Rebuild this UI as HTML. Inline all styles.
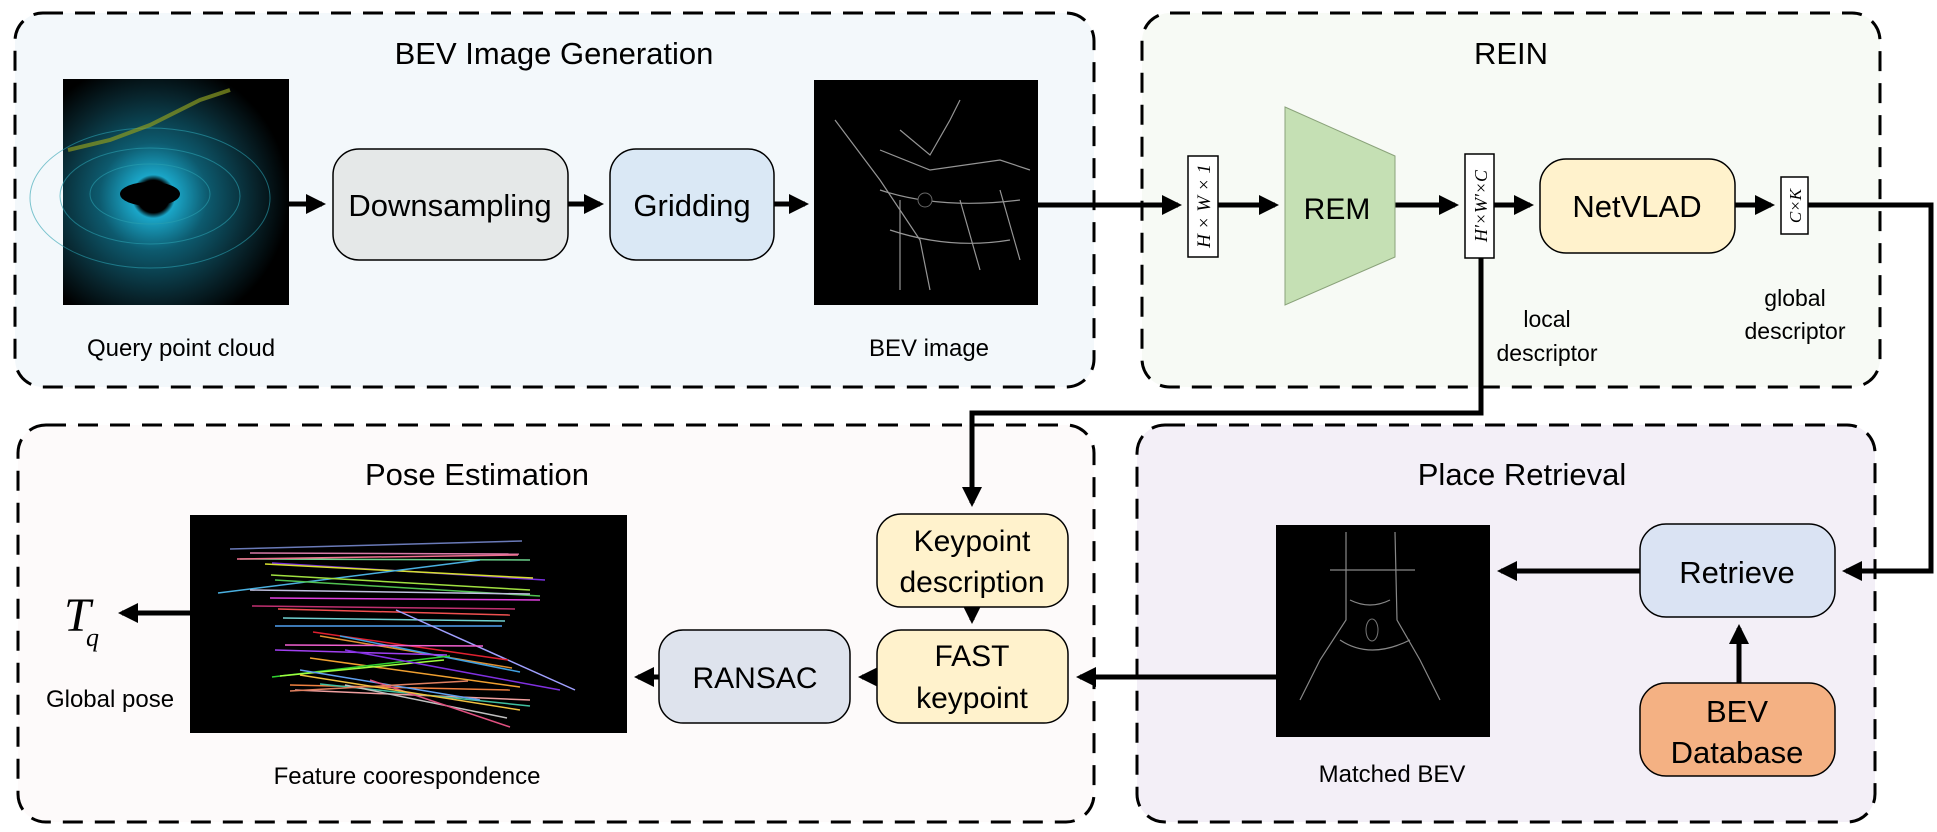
<!DOCTYPE html>
<html><head><meta charset="utf-8"><style>
html,body{margin:0;padding:0;background:#fff;}
svg{display:block;}
text{font-family:"Liberation Sans",sans-serif;fill:#000;}
</style></head><body>
<svg width="1937" height="832" viewBox="0 0 1937 832" xmlns="http://www.w3.org/2000/svg">
<defs>
<marker id="ah" markerWidth="4" markerHeight="4" refX="3.2" refY="2" orient="auto" markerUnits="strokeWidth">
<path d="M0,0 L4,2 L0,4 Z" fill="#000"/></marker>
<radialGradient id="pc" cx="0.4" cy="0.52" r="0.6">
<stop offset="0" stop-color="#000"/><stop offset="0.12" stop-color="#000"/>
<stop offset="0.16" stop-color="#1aa6c8"/><stop offset="0.4" stop-color="#0d5a6e"/>
<stop offset="0.75" stop-color="#08242c"/><stop offset="1" stop-color="#000"/></radialGradient>
</defs>

<rect x="15" y="13" width="1079" height="374" rx="28" fill="#f3f8fb" stroke="#000" stroke-width="3" stroke-dasharray="20 12"/>
<rect x="1142" y="13" width="738" height="374" rx="28" fill="#f7faf5" stroke="#000" stroke-width="3" stroke-dasharray="20 12"/>
<rect x="18" y="425" width="1076" height="397" rx="28" fill="#fdfafa" stroke="#000" stroke-width="3" stroke-dasharray="20 12"/>
<rect x="1137" y="425" width="738" height="397" rx="28" fill="#f3eff7" stroke="#000" stroke-width="3" stroke-dasharray="20 12"/>

<text x="554" y="64" font-size="31" text-anchor="middle">BEV Image Generation</text>
<text x="1511" y="64" font-size="31" text-anchor="middle">REIN</text>
<text x="477" y="485" font-size="31" text-anchor="middle">Pose Estimation</text>
<text x="1522" y="485" font-size="31" text-anchor="middle">Place Retrieval</text>

<rect x="63" y="79" width="226" height="226" fill="url(#pc)"/>
<ellipse cx="150" cy="194" rx="30" ry="12" fill="#000"/>
<g stroke="#2aa0b0" stroke-width="1" fill="none" opacity="0.6">
<ellipse cx="150" cy="194" rx="60" ry="30"/><ellipse cx="150" cy="196" rx="90" ry="48"/><ellipse cx="150" cy="198" rx="120" ry="70"/>
</g>
<path d="M68,150 L110,140 L150,125 L200,100 L230,90" stroke="#8a9a20" stroke-width="4" fill="none" opacity="0.7"/>

<rect x="814" y="80" width="224" height="225" fill="#000"/>
<g stroke="#bbb" stroke-width="1.2" fill="none" opacity="0.8">
<path d="M835,120 L880,180 L920,240 L930,290"/><path d="M880,150 L930,170 L1000,160 L1030,170"/>
<path d="M900,130 L930,155 L950,120 L960,100"/><path d="M900,200 L900,290 M960,200 L980,270 M1000,190 L1020,260"/>
<path d="M880,190 Q940,210 1020,200 M890,230 Q950,250 1010,240"/>
</g>
<circle cx="925" cy="200" r="7" fill="#000" stroke="#666"/>

<rect x="333" y="149" width="235" height="111" rx="26" fill="#e5e8e8" stroke="#000" stroke-width="1.5"/>
<text x="450" y="216" font-size="31" text-anchor="middle">Downsampling</text>
<rect x="610" y="149" width="164" height="111" rx="26" fill="#dae8f5" stroke="#000" stroke-width="1.5"/>
<text x="692" y="216" font-size="31" text-anchor="middle">Gridding</text>

<g stroke="#000" stroke-width="5" fill="none" marker-end="url(#ah)">
<line x1="289" y1="204" x2="322" y2="204"/>
<line x1="568" y1="204" x2="600" y2="204"/>
<line x1="774" y1="204" x2="805" y2="204"/>
<line x1="1038" y1="205" x2="1178" y2="205"/>
<line x1="1218" y1="205" x2="1275" y2="205"/>
<line x1="1395" y1="205" x2="1455" y2="205"/>
<line x1="1494" y1="205" x2="1530" y2="205"/>
<line x1="1735" y1="205" x2="1771" y2="205"/>
<polyline points="1808,205 1931,205 1931,571 1846,571"/>
<polyline points="1481,258 1481,413 972,413 972,503"/>
<line x1="1640" y1="571" x2="1501" y2="571"/>
<line x1="1739" y1="683" x2="1739" y2="628"/>
<polyline points="1276,677 1080,677"/>
<line x1="877" y1="677" x2="862" y2="677"/>
<line x1="659" y1="677" x2="638" y2="677"/>
<line x1="191" y1="613" x2="122" y2="613"/>
<line x1="972" y1="607" x2="972" y2="620"/>
</g>

<rect x="1188" y="156" width="30" height="101" fill="#fff" stroke="#000" stroke-width="1.5"/>
<text transform="translate(1210,206) rotate(-90)" font-size="19" text-anchor="middle" style="font-family:'Liberation Serif',serif;font-style:italic">H × W × 1</text>
<polygon points="1285,107 1395,156 1395,257 1285,305" fill="#c5e0b4" stroke="#8aa27a" stroke-width="1"/>
<text x="1337" y="219" font-size="30" text-anchor="middle">REM</text>
<rect x="1465" y="154" width="29" height="104" fill="#fff" stroke="#000" stroke-width="1.5"/>
<text transform="translate(1487,206) rotate(-90)" font-size="18" text-anchor="middle" style="font-family:'Liberation Serif',serif;font-style:italic">H'×W'×C</text>
<rect x="1540" y="159" width="195" height="94" rx="26" fill="#fff2cc" stroke="#000" stroke-width="1.5"/>
<text x="1637" y="217" font-size="31" text-anchor="middle">NetVLAD</text>
<rect x="1781" y="177" width="27" height="57" fill="#fff" stroke="#000" stroke-width="1.5"/>
<text transform="translate(1801,206) rotate(-90)" font-size="17" text-anchor="middle" style="font-family:'Liberation Serif',serif;font-style:italic">C×K</text>
<text x="1547" y="327" font-size="23" text-anchor="middle">local</text>
<text x="1547" y="361" font-size="23" text-anchor="middle">descriptor</text>
<text x="1795" y="306" font-size="23" text-anchor="middle">global</text>
<text x="1795" y="339" font-size="23" text-anchor="middle">descriptor</text>

<text x="181" y="356" font-size="24" text-anchor="middle">Query point cloud</text>
<text x="929" y="356" font-size="24" text-anchor="middle">BEV image</text>

<rect x="190" y="515" width="437" height="218" fill="#000"/>
<g stroke-width="1.5" fill="none">
<line x1="230" y1="549" x2="522" y2="541" stroke="#6a7ab8"/>
<line x1="250" y1="553" x2="519" y2="554" stroke="#d87aa8"/>
<line x1="240" y1="559" x2="530" y2="560" stroke="#6ad08a"/>
<line x1="237" y1="559" x2="518" y2="555" stroke="#f07090"/>
<line x1="272" y1="563" x2="545" y2="580" stroke="#7a30e0"/>
<line x1="265" y1="564" x2="533" y2="578" stroke="#d8e030"/>
<line x1="218" y1="593" x2="480" y2="560" stroke="#4ab0e0"/>
<line x1="271" y1="575" x2="530" y2="590" stroke="#a0e040"/>
<line x1="275" y1="580" x2="540" y2="596" stroke="#50c050"/>
<line x1="250" y1="590" x2="530" y2="594" stroke="#c0c0e0"/>
<line x1="270" y1="598" x2="540" y2="600" stroke="#e040e0"/>
<line x1="252" y1="606" x2="515" y2="609" stroke="#c03070"/>
<line x1="278" y1="609" x2="510" y2="615" stroke="#f05050"/>
<line x1="283" y1="618" x2="505" y2="621" stroke="#70d0d0"/>
<line x1="275" y1="626" x2="502" y2="626" stroke="#50a0f0"/>
<line x1="396" y1="610" x2="575" y2="690" stroke="#a0a0ff"/>
<line x1="313" y1="632" x2="508" y2="660" stroke="#e02030"/>
<line x1="320" y1="636" x2="512" y2="668" stroke="#e09030"/>
<line x1="340" y1="636" x2="520" y2="672" stroke="#40a0e0"/>
<line x1="285" y1="645" x2="483" y2="646" stroke="#f060d0"/>
<line x1="275" y1="650" x2="447" y2="655" stroke="#a040f0"/>
<line x1="310" y1="658" x2="520" y2="687" stroke="#f0a030"/>
<line x1="272" y1="677" x2="450" y2="656" stroke="#30d030"/>
<line x1="280" y1="676" x2="444" y2="660" stroke="#a0ff40"/>
<line x1="290" y1="685" x2="510" y2="690" stroke="#f08040"/>
<line x1="295" y1="690" x2="530" y2="700" stroke="#f0a0a0"/>
<line x1="320" y1="684" x2="530" y2="706" stroke="#40c0a0"/>
<line x1="300" y1="670" x2="480" y2="700" stroke="#60a0f0"/>
<line x1="345" y1="685" x2="507" y2="718" stroke="#c0c0c0"/>
<line x1="370" y1="680" x2="510" y2="727" stroke="#e05080"/>
<line x1="290" y1="691" x2="468" y2="681" stroke="#e08060"/>
<line x1="300" y1="675" x2="520" y2="710" stroke="#f0c040"/>
<line x1="345" y1="650" x2="560" y2="690" stroke="#8030e0"/>
</g>
<text x="64" y="631" font-size="48" style="font-family:'Liberation Serif',serif;font-style:italic">T</text>
<text x="86" y="646" font-size="26" style="font-family:'Liberation Serif',serif;font-style:italic">q</text>
<text x="110" y="707" font-size="24" text-anchor="middle">Global pose</text>
<text x="407" y="784" font-size="24" text-anchor="middle">Feature coorespondence</text>

<rect x="877" y="514" width="191" height="93" rx="24" fill="#fff2cc" stroke="#000" stroke-width="1.5"/>
<text x="972" y="551" font-size="30" text-anchor="middle">Keypoint</text>
<text x="972" y="592" font-size="30" text-anchor="middle">description</text>
<rect x="877" y="630" width="191" height="93" rx="24" fill="#fff2cc" stroke="#000" stroke-width="1.5"/>
<text x="972" y="666" font-size="30" text-anchor="middle">FAST</text>
<text x="972" y="708" font-size="30" text-anchor="middle">keypoint</text>
<rect x="659" y="630" width="191" height="93" rx="24" fill="#dee3ed" stroke="#000" stroke-width="1.5"/>
<text x="755" y="688" font-size="30" text-anchor="middle">RANSAC</text>

<rect x="1276" y="525" width="214" height="212" fill="#000"/>
<g stroke="#aaa" stroke-width="1.2" fill="none" opacity="0.8">
<path d="M1346,532 L1346,620 L1320,660 L1300,700"/><path d="M1395,532 L1397,620 L1420,660 L1440,700"/>
<path d="M1330,570 L1415,570"/><path d="M1350,600 Q1370,610 1390,600 M1340,640 Q1370,660 1410,640"/>
</g>
<ellipse cx="1372" cy="630" rx="6" ry="11" fill="#000" stroke="#777"/>
<rect x="1640" y="524" width="195" height="93" rx="26" fill="#dae3f3" stroke="#000" stroke-width="1.5"/>
<text x="1737" y="583" font-size="31" text-anchor="middle">Retrieve</text>
<rect x="1640" y="683" width="195" height="93" rx="26" fill="#f4b183" stroke="#000" stroke-width="1.5"/>
<text x="1737" y="722" font-size="31" text-anchor="middle">BEV</text>
<text x="1737" y="763" font-size="31" text-anchor="middle">Database</text>
<text x="1392" y="782" font-size="24" text-anchor="middle">Matched BEV</text>
</svg>
</body></html>
